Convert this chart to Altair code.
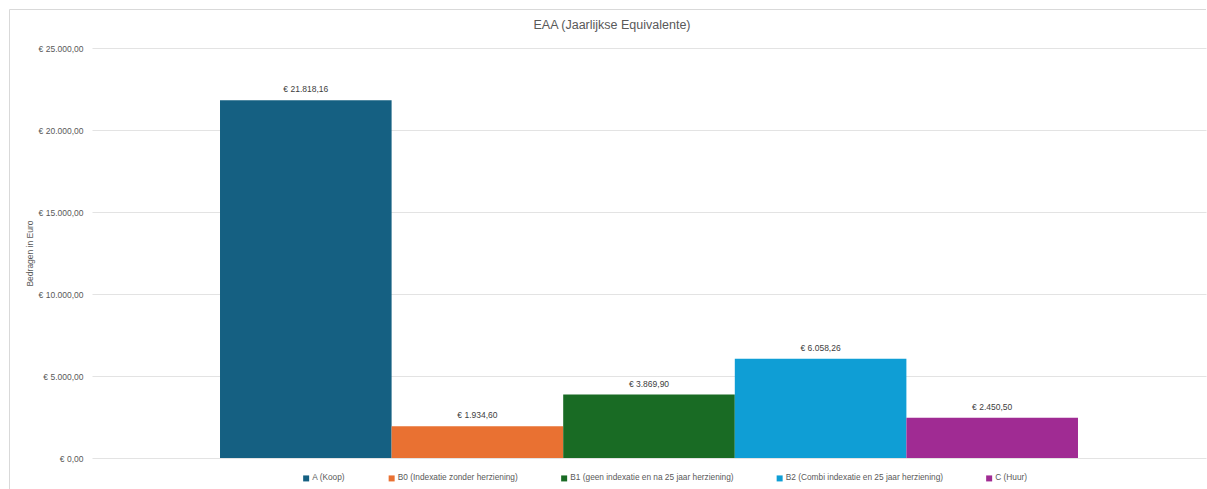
import altair as alt
import pandas as pd

series = [
    "A (Koop)",
    "B0 (Indexatie zonder herziening)",
    "B1 (geen indexatie en na 25 jaar herziening)",
    "B2 (Combi indexatie en 25 jaar herziening)",
    "C (Huur)",
]
values = [21818.16, 1934.60, 3869.90, 6058.26, 2450.50]
colors = ["#156082", "#E97132", "#196B24", "#0F9ED5", "#A02B93"]
y_ticks = [0, 5000, 10000, 15000, 20000, 25000]


def euro(v):
    s = f"{v:,.2f}".replace(",", "#").replace(".", ",").replace("#", ".")
    return "€ " + s


df = pd.DataFrame({"Serie": series, "Waarde": values, "Label": [euro(v) for v in values]})

FONT = "Liberation Sans"
GREY = "#595959"

x_enc = alt.X("Serie:N", sort=series, axis=None,
              scale=alt.Scale(paddingInner=0, paddingOuter=0.746))

bars = alt.Chart(df).mark_bar().encode(
    x=x_enc,
    y=alt.Y("Waarde:Q",
            scale=alt.Scale(domain=[0, 25000], nice=False),
            axis=alt.Axis(
                values=y_ticks,
                title="Bedragen in Euro",
                titleFont=FONT, titleFontSize=8.5, titleFontWeight="normal",
                titleColor=GREY, titleX=-63, titleY=205, titleAngle=270,
                titleAlign="center", titleBaseline="middle",
                labelFont=FONT, labelFontSize=8.5, labelColor=GREY,
                labelPadding=9, ticks=False, domain=False,
                grid=True, gridColor="#e3e3e3", gridWidth=1,
                labelExpr="'€ ' + replace(replace(replace(format(datum.value, ',.2f'), ',', '#'), '.', ','), '#', '.')",
            )),
    color=alt.Color("Serie:N", sort=series,
                    scale=alt.Scale(domain=series, range=colors),
                    legend=alt.Legend(
                        title=None, orient="none", direction="horizontal",
                        columns=5, legendX=210, legendY=426,
                        symbolType="square", symbolSize=36,
                        symbolStrokeWidth=0, labelOffset=2,
                        columnPadding=41.5,
                        labelFont=FONT, labelFontSize=8.3, labelColor=GREY,
                        labelLimit=400,
                    )),
)

text = alt.Chart(df).mark_text(
    baseline="bottom", dy=-6, font=FONT, fontSize=8.5, color="#404040"
).encode(
    x=x_enc,
    y=alt.Y("Waarde:Q"),
    text="Label:N",
)

frame_df = pd.DataFrame({"k": [0]})
frame_left = alt.Chart(frame_df).mark_rule(color="#d9d9d9", strokeWidth=1).encode(
    x=alt.value(-82.5), y=alt.value(-38.5), y2=alt.value(445)
)
frame_top = alt.Chart(frame_df).mark_rule(color="#d9d9d9", strokeWidth=1).encode(
    x=alt.value(-82.5), x2=alt.value(1114), y=alt.value(-38.5)
)

chart = alt.layer(frame_left, frame_top, bars, text).properties(
    width=1114,
    height=410,
    title=alt.TitleParams(
        "EAA (Jaarlijkse Equivalente)",
        font=FONT, fontSize=12.5, fontWeight="normal", color=GREY,
        anchor="middle", dx=-37, dy=28, offset=0, baseline="middle",
    ),
    autosize=alt.AutoSizeParams(type="none"),
    padding={"left": 92, "top": 48, "right": 1, "bottom": 31},
).configure(background="white").configure_view(stroke="transparent", strokeWidth=0)

chart.save("out.html", embed_options={"renderer": "svg", "actions": False})
